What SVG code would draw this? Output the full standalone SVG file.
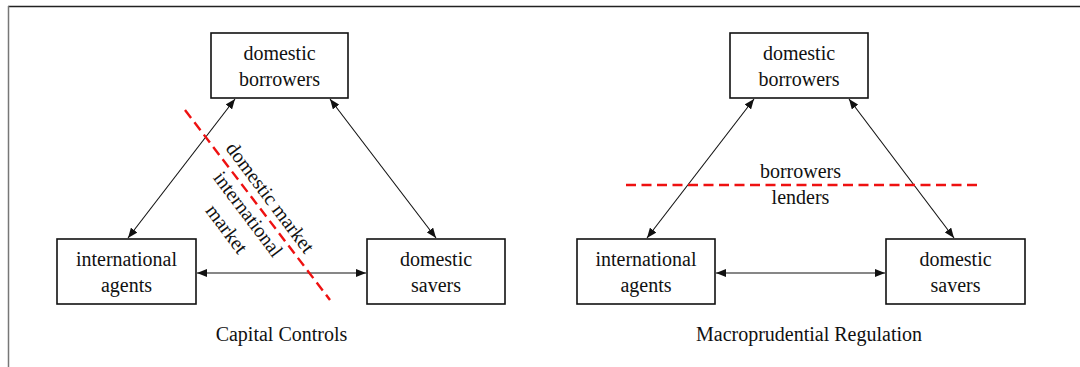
<svg xmlns="http://www.w3.org/2000/svg" width="1080" height="367" viewBox="0 0 1080 367">
<style>
.box{fill:#fff;stroke:#111;stroke-width:1.6}
.t{font-family:"Liberation Serif","Times New Roman",serif;font-size:20px;fill:#111;text-anchor:middle}
.ar{stroke:#111;stroke-width:1.1;fill:none;marker-start:url(#ah);marker-end:url(#ah)}
.red{stroke:#ee1111;stroke-width:2.4;stroke-dasharray:10 5.5;fill:none}
</style>
<defs>
<marker id="ah" viewBox="0 0 10 8" refX="10" refY="4" markerWidth="10" markerHeight="8" markerUnits="userSpaceOnUse" orient="auto-start-reverse">
<path d="M0,0 L10,4 L0,8 Z" fill="#111"/>
</marker>
</defs>
<rect width="1080" height="367" fill="#fff"/>
<g id="frame">
<line x1="8" y1="6.5" x2="1080" y2="6.5" stroke="#222" stroke-width="1.5"/>
<line x1="8.5" y1="6" x2="8.5" y2="367" stroke="#777" stroke-width="1.5"/>
</g>
<g id="connectors">
<line class="ar" x1="235" y1="99" x2="128" y2="238"/>
<line class="ar" x1="330" y1="99" x2="436" y2="238"/>
<line class="ar" x1="197" y1="273" x2="366" y2="273"/>
<line class="ar" x1="754" y1="99" x2="647" y2="238"/>
<line class="ar" x1="849" y1="99" x2="954" y2="238"/>
<line class="ar" x1="716" y1="273" x2="885" y2="273"/>
</g>
<g id="left-top"><rect class="box" x="211" y="33" width="137" height="65"/><text class="t" x="279.5" y="59.5">domestic</text><text class="t" x="279.5" y="86">borrowers</text></g>
<g id="left-intl"><rect class="box" x="57" y="239" width="139" height="65"/><text class="t" x="126.5" y="265.5">international</text><text class="t" x="126.5" y="292">agents</text></g>
<g id="left-savers"><rect class="box" x="367" y="239" width="138" height="65"/><text class="t" x="436" y="265.5">domestic</text><text class="t" x="436" y="292">savers</text></g>
<g id="left-divider">
<line class="red" x1="185" y1="110" x2="330" y2="300"/>
<g transform="translate(259,206) rotate(53)">
<text class="t" x="0" y="-7.3">domestic market</text>
<text class="t" x="0" y="20.3">international</text>
<text class="t" x="-1" y="46.2">market</text>
</g>
</g>
<text class="t" x="281.5" y="341">Capital Controls</text>
<g id="right-top"><rect class="box" x="730" y="33" width="138" height="65"/><text class="t" x="799" y="59.5">domestic</text><text class="t" x="799" y="86">borrowers</text></g>
<g id="right-intl"><rect class="box" x="577" y="239" width="138" height="65"/><text class="t" x="646" y="265.5">international</text><text class="t" x="646" y="292">agents</text></g>
<g id="right-savers"><rect class="box" x="886" y="239" width="139" height="65"/><text class="t" x="955.5" y="265.5">domestic</text><text class="t" x="955.5" y="292">savers</text></g>
<g id="right-divider">
<line class="red" x1="626" y1="185" x2="979" y2="185"/>
<text class="t" x="800.5" y="178">borrowers</text>
<text class="t" x="800.5" y="204">lenders</text>
</g>
<text class="t" x="809" y="341">Macroprudential Regulation</text>
</svg>
